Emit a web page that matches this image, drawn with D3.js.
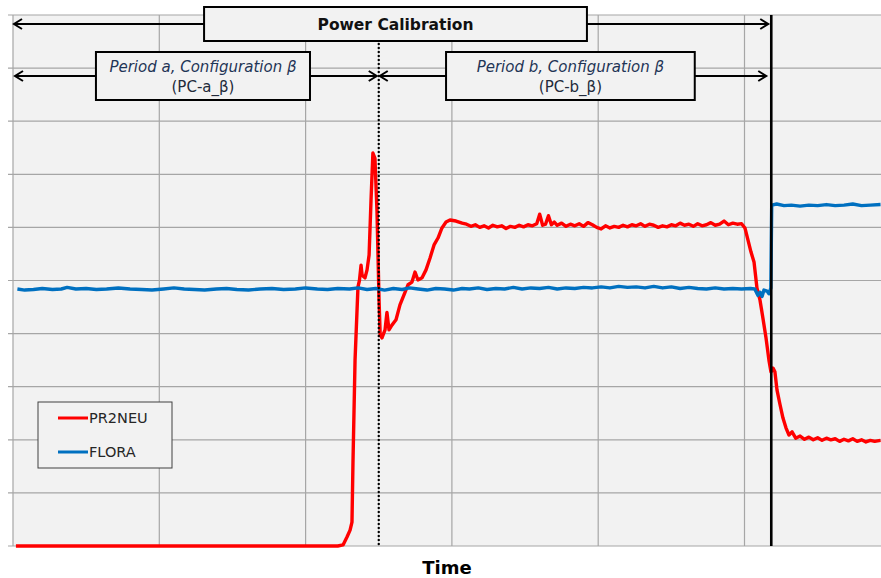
<!DOCTYPE html>
<html>
<head>
<meta charset="utf-8">
<script src="https://cdn.jsdelivr.net/npm/d3@7"></script>
<style>
  body { margin: 0; background: #fff; }
  svg { display: block; font-family: "DejaVu Sans", Verdana, sans-serif; }
</style>
</head>
<body>
<svg class="chart"></svg>
<script>
// series data: [time, value] (time in grid units of 100, value in grid units)
var pr2neu = [
  [2, 0], [60, 0], [120, 0], [180, 0], [222, 0], [225.6, 0.02], [228.3, 0.17], [230.4, 0.3], [231.7, 0.45],
  [232.4, 1.6], [233.8, 3.5], [235.8, 4.88], [236.8, 5.0], [237.9, 5.29], [238.6, 5.1], [240.6, 5.05],
  [242, 5.2], [243.4, 5.48], [244.7, 6.5], [246, 7.4], [247.4, 7.3], [248.8, 6.3], [250.2, 4.63],
  [251, 3.97], [252.2, 3.92], [253.3, 4.0], [254.3, 4.07], [255.6, 4.4], [257, 4.07], [259, 4.16],
  [261.8, 4.26], [264.5, 4.54], [268, 4.78], [270, 4.92], [272.7, 4.97], [274.8, 5.16], [276.8, 5.01],
  [279.6, 5.05], [282.3, 5.2], [285, 5.42], [287.8, 5.67], [290.5, 5.8], [293.2, 5.99], [296, 6.1],
  [298.7, 6.14], [302.8, 6.12], [307, 6.08], [310, 6.06], [313, 6.02], [316, 6.05], [319, 6.0],
  [322, 6.03], [325, 5.99], [328, 6.04], [331, 6.01], [334, 6.03], [337, 5.98], [340, 6.02], [343, 6.0],
  [346, 6.04], [349, 6.01], [352, 6.05], [355, 6.03], [358, 6.07], [360, 6.25], [362, 6.04], [364, 6.06],
  [366, 6.22], [368, 6.05], [370, 6.1], [372, 6.04], [375, 6.08], [378, 6.02], [381, 6.06], [384, 6.03],
  [387, 6.07], [390, 6.02], [393, 6.09], [396, 6.05], [399, 6.0], [402, 5.97], [405, 6.03], [408, 5.99],
  [411, 6.02], [414, 6.0], [417, 6.04], [420, 6.01], [423, 6.05], [426, 6.03], [429, 6.07], [432, 6.02],
  [435, 6.06], [438, 6.04], [441, 6.0], [444, 6.03], [447, 6.01], [450, 6.05], [453, 6.03], [456, 6.08],
  [459, 6.04], [462, 6.06], [465, 6.02], [468, 6.07], [471, 6.03], [474, 6.05], [477, 6.09], [480, 6.04],
  [483, 6.06], [486, 6.12], [489, 6.05], [492, 6.08], [495, 6.06], [498, 6.07], [500.3, 5.99],
  [502.4, 5.76], [504.4, 5.54], [506.5, 5.35], [508.5, 4.86], [510.6, 4.63], [512.6, 4.29], [514.7, 3.92],
  [516.7, 3.5], [518.1, 3.28], [519.5, 3.35], [520.8, 3.28], [522.2, 2.94], [524.3, 2.66], [526.3, 2.41],
  [528.4, 2.22], [530.4, 2.09], [532.5, 2.15], [535, 2.03], [538, 2.07], [541, 2.01], [544, 2.05],
  [547, 2.0], [550, 2.04], [553, 1.99], [556, 2.03], [559, 2.0], [562, 2.02], [565, 1.97], [568, 2.01],
  [571, 1.98], [574, 2.02], [577, 1.97], [580, 2.0], [583, 1.96], [586, 1.99], [589, 1.97], [593, 1.99]
];

var flora = [
  [3, 4.84], [8, 4.82], [14, 4.83], [20, 4.85], [27, 4.83], [33, 4.84], [37, 4.87], [43, 4.84],
  [50, 4.85], [57, 4.83], [64, 4.84], [72, 4.86], [80, 4.84], [88, 4.83], [95, 4.82], [103, 4.84],
  [110, 4.86], [117, 4.84], [124, 4.83], [131, 4.82], [139, 4.84], [146, 4.85], [153, 4.83],
  [161, 4.82], [169, 4.84], [177, 4.85], [185, 4.83], [193, 4.84], [200, 4.86], [208, 4.84],
  [215, 4.83], [222, 4.85], [230, 4.84], [236, 4.86], [242, 4.83], [248, 4.85], [254, 4.82],
  [260, 4.85], [266, 4.83], [271, 4.86], [277, 4.84], [283, 4.82], [289, 4.85], [295, 4.84],
  [301, 4.82], [307, 4.85], [312, 4.84], [318, 4.86], [324, 4.83], [330, 4.85], [336, 4.84],
  [342, 4.87], [348, 4.84], [354, 4.86], [360, 4.85], [366, 4.87], [372, 4.84], [378, 4.86],
  [384, 4.85], [390, 4.87], [396, 4.86], [402, 4.88], [408, 4.86], [414, 4.89], [420, 4.87],
  [426, 4.88], [432, 4.86], [438, 4.89], [444, 4.86], [450, 4.88], [456, 4.85], [462, 4.87],
  [468, 4.85], [474, 4.84], [480, 4.86], [486, 4.84], [492, 4.85], [498, 4.84], [504, 4.85],
  [507, 4.84], [509.2, 4.72], [510.6, 4.78], [512, 4.7], [513.3, 4.82], [515.4, 4.8], [516.7, 4.75],
  [518, 4.86], [518.6, 6.42], [522, 6.44], [527, 6.41], [532, 6.42], [538, 6.4], [544, 6.42],
  [550, 6.41], [556, 6.43], [562, 6.41], [568, 6.42], [574, 6.44], [580, 6.41], [586, 6.42], [593, 6.43]
];

var seriesNames = ['PR2NEU', 'FLORA'];
var seriesColors = ['#ff0000', '#0070c0'];

var xTicks = [0, 100, 200, 300, 400, 500, 600];
var yTicks = [0, 1, 2, 3, 4, 5, 6, 7, 8, 9, 10];

// events on the time axis
var periodSplit = 250;
var calibrationEnd = 518.3;

var svgWidth = 881;
var svgHeight = 578;
var margin = {top: 15, left: 13, bottom: 32};

var svg = d3.select('.chart')
  .attr('width', svgWidth)
  .attr('height', svgHeight);

var x = d3.scaleLinear()
  .domain([0, 600])
  .range([margin.left, margin.left + 6 * 146.3]);

var y = d3.scaleLinear()
  .domain([0, 10])
  .range([svgHeight - margin.bottom, margin.top]);

// plot background
svg.append('rect')
  .attr('x', x(0))
  .attr('y', y(10))
  .attr('width', svgWidth - x(0))
  .attr('height', y(0) - y(10))
  .attr('fill', '#f2f2f2');

// grid
var grid = svg.append('g');

grid.selectAll('.hgrid')
  .data(yTicks)
  .enter().append('line')
  .attr('x1', x(0) - 5)
  .attr('x2', svgWidth)
  .attr('y1', function(d) { return y(d); })
  .attr('y2', function(d) { return y(d); })
  .attr('stroke', '#a6a6a6')
  .attr('stroke-width', 1.2);

grid.selectAll('.vgrid')
  .data(xTicks)
  .enter().append('line')
  .attr('x1', function(d) { return x(d); })
  .attr('x2', function(d) { return x(d); })
  .attr('y1', y(10))
  .attr('y2', y(0))
  .attr('stroke', '#a6a6a6')
  .attr('stroke-width', 1.2);

// series
var line = d3.line()
  .x(function(d) { return x(d[0]); })
  .y(function(d) { return y(d[1]); });

svg.selectAll('.series')
  .data([pr2neu, flora])
  .enter().append('path')
  .attr('d', line)
  .attr('fill', 'none')
  .attr('stroke', function(d, i) { return seriesColors[i]; })
  .attr('stroke-width', 3.4)
  .attr('stroke-linejoin', 'round');

// markers for the period split and the end of calibration
svg.append('line')
  .attr('x1', x(periodSplit))
  .attr('x2', x(periodSplit))
  .attr('y1', 44)
  .attr('y2', y(0))
  .attr('stroke', '#000')
  .attr('stroke-width', 2.4)
  .attr('stroke-linecap', 'round')
  .attr('stroke-dasharray', '0,4');

svg.append('line')
  .attr('x1', x(calibrationEnd))
  .attr('x2', x(calibrationEnd))
  .attr('y1', y(10))
  .attr('y2', y(0))
  .attr('stroke', '#000')
  .attr('stroke-width', 2.6);

// annotations
function drawArrow(g, x1, x2, yy) {
  var dir = x2 > x1 ? 1 : -1;
  g.append('line')
    .attr('x1', x1).attr('x2', x2)
    .attr('y1', yy).attr('y2', yy)
    .attr('stroke', '#000')
    .attr('stroke-width', 2);
  g.append('path')
    .attr('d', 'M' + (x2 - dir * 8) + ',' + (yy - 5) + 'L' + x2 + ',' + yy + 'L' + (x2 - dir * 8) + ',' + (yy + 5))
    .attr('fill', 'none')
    .attr('stroke', '#000')
    .attr('stroke-width', 2);
}

var spans = [
  {t0: 0, t1: calibrationEnd, b0: 130.6, b1: 392.3, top: 7, h: 34, pad: [1, 3]},
  {t0: 0, t1: periodSplit, b0: 56.7, b1: 203, top: 52, h: 48, pad: [2, 2]},
  {t0: periodSplit, t1: calibrationEnd, b0: 296, b1: 466, top: 52, h: 48, pad: [1, 5]}
];
var spanText = [
  ['Power Calibration'],
  ['Period a, Configuration β', '(PC-a_β)'],
  ['Period b, Configuration β', '(PC-b_β)']
];

var ann = svg.append('g');

spans.forEach(function(s, i) {
  var mid = s.top + s.h / 2;
  drawArrow(ann, x(s.b0), x(s.t0) + s.pad[0], mid);
  drawArrow(ann, x(s.b1), x(s.t1) - s.pad[1], mid);
  ann.append('rect')
    .attr('x', x(s.b0))
    .attr('y', s.top)
    .attr('width', x(s.b1) - x(s.b0))
    .attr('height', s.h)
    .attr('fill', '#f2f2f2')
    .attr('stroke', '#000')
    .attr('stroke-width', 2);
  var cx = (x(s.b0) + x(s.b1)) / 2;
  if (i === 0) {
    ann.append('text')
      .attr('x', cx)
      .attr('y', mid + 6)
      .attr('text-anchor', 'middle')
      .attr('font-weight', 'bold')
      .attr('font-size', 15.5)
      .attr('fill', '#111')
      .text(spanText[i][0]);
  } else {
    ann.append('text')
      .attr('x', cx)
      .attr('y', s.top + 20)
      .attr('text-anchor', 'middle')
      .attr('font-style', 'italic')
      .attr('font-size', 15)
      .attr('fill', '#1f3556')
      .text(spanText[i][0]);
    ann.append('text')
      .attr('x', cx)
      .attr('y', s.top + 40)
      .attr('text-anchor', 'middle')
      .attr('font-size', 15)
      .attr('fill', '#222a3a')
      .text(spanText[i][1]);
  }
});

// legend
var legend = svg.append('g')
  .attr('transform', 'translate(38,402)');

legend.append('rect')
  .attr('width', 134)
  .attr('height', 66)
  .attr('fill', '#f2f2f2')
  .attr('stroke', '#404040')
  .attr('stroke-width', 1);

var legendItem = legend.selectAll('.item')
  .data(seriesNames)
  .enter().append('g')
  .attr('transform', function(d, i) { return 'translate(0,' + (16 + i * 34) + ')'; });

legendItem.append('line')
  .attr('x1', 20).attr('x2', 50)
  .attr('stroke', function(d, i) { return seriesColors[i]; })
  .attr('stroke-width', 3);

legendItem.append('text')
  .attr('x', 51)
  .attr('y', 5)
  .attr('font-size', 14.5)
  .attr('fill', '#262626')
  .text(function(d) { return d; });

// axis title
svg.append('text')
  .attr('x', 447)
  .attr('y', 574)
  .attr('text-anchor', 'middle')
  .attr('font-weight', 'bold')
  .attr('font-size', 18)
  .attr('fill', '#000')
  .text('Time');
</script>
</body>
</html>
